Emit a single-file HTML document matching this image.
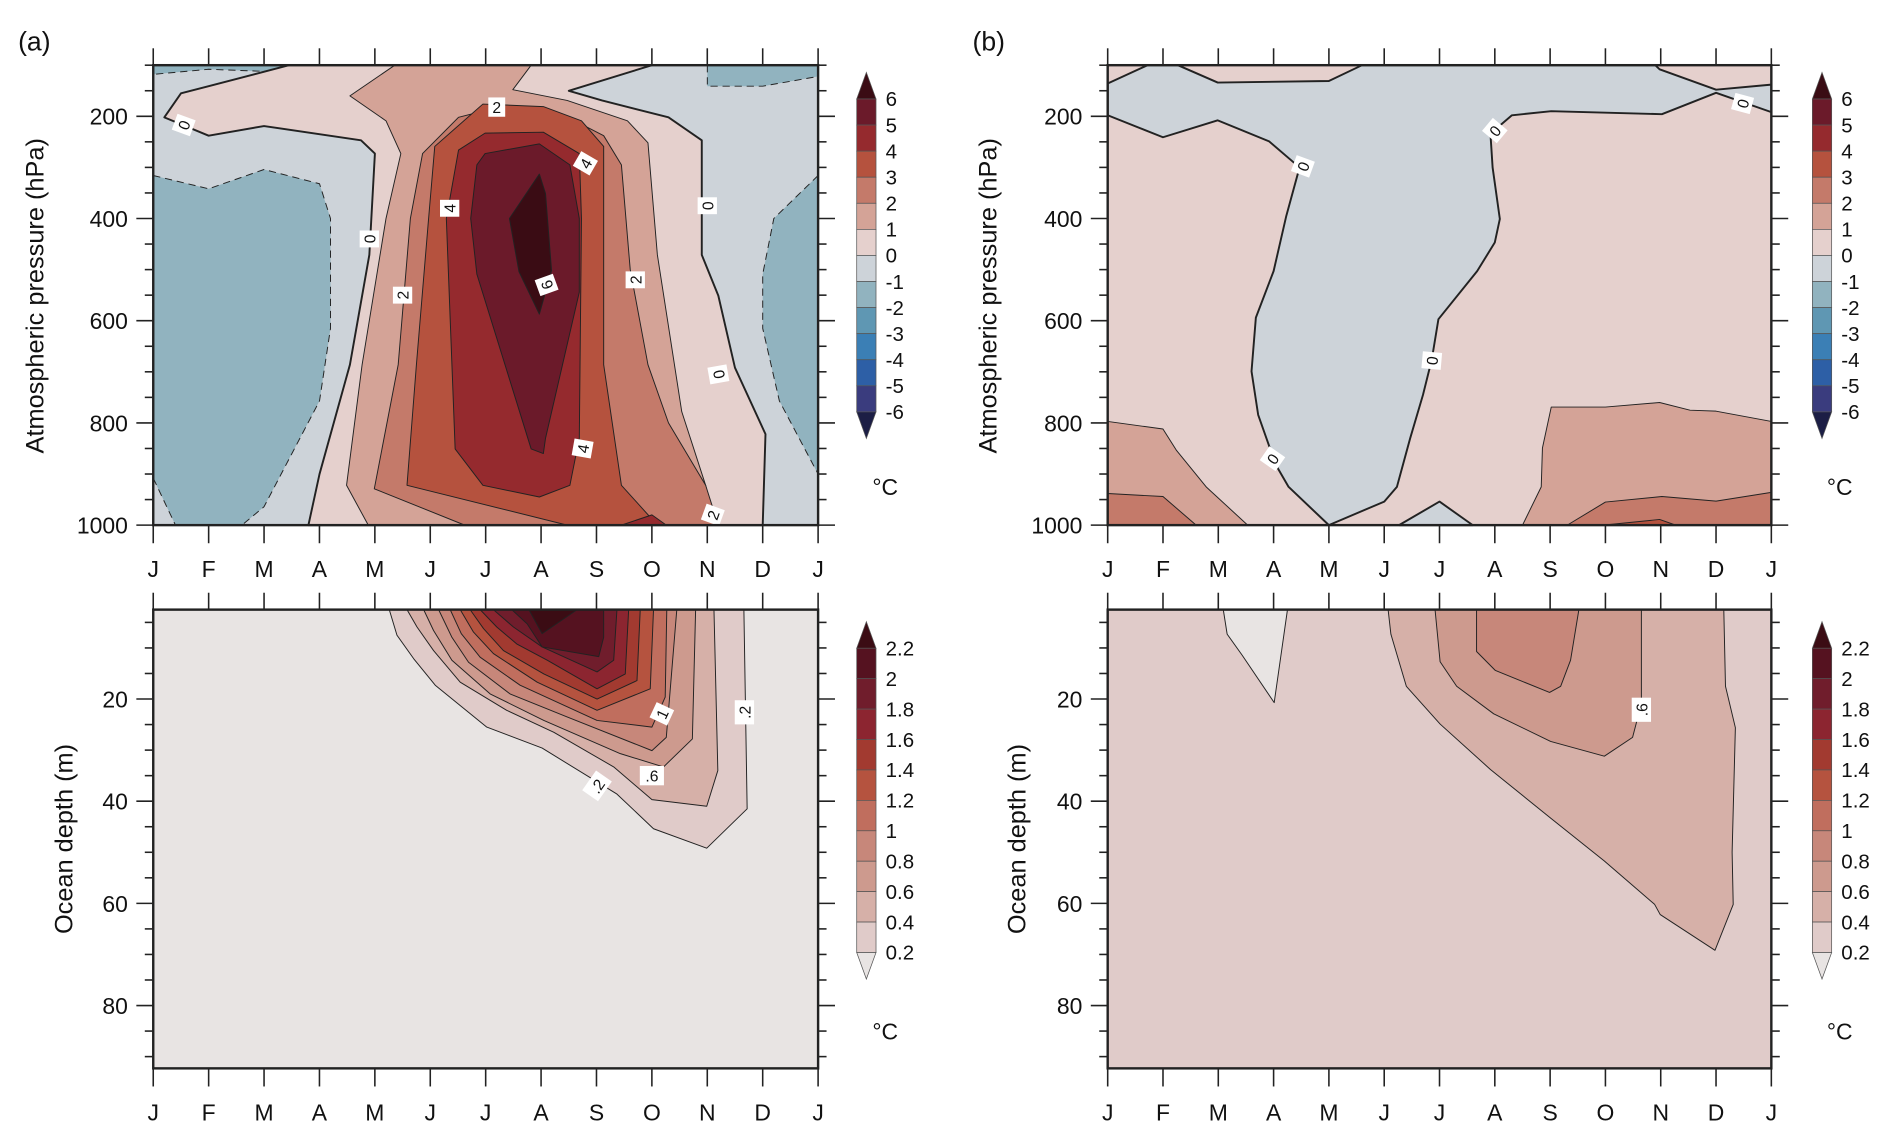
<!DOCTYPE html>
<html><head><meta charset="utf-8"><style>
html,body{margin:0;padding:0;background:#fff}
svg{display:block}
text{font-family:"Liberation Sans",sans-serif;fill:#111}
</style></head><body>
<svg id="fig" width="1892" height="1142" viewBox="0 0 1568 946" preserveAspectRatio="none" xmlns="http://www.w3.org/2000/svg"></svg>
<script>
const months = ["J","F","M","A","M","J","J","A","S","O","N","D","J"];
const pressureTicks = [200,400,600,800,1000];
const depthTicks = [20,40,60,80];
const atmLevels = ["6","5","4","3","2","1","0","-1","-2","-3","-4","-5","-6"];
const ocnLevels = ["2.2","2","1.8","1.6","1.4","1.2","1","0.8","0.6","0.4","0.2"];
const atmColors = ["#3a0c14","#6b1a2a","#952a2e","#b5523e","#c47a6a","#d4a397","#e5d0cd","#cdd3d9","#91b3bf","#5f97b3","#3b7fb5","#2d5fa6","#3a3c7e","#1c1e45"];
const ocnColors = ["#3b0c14","#551220","#701d2c","#8c2530","#a23a30","#b5533f","#c06e5e","#c7877a","#cd9a8e","#d6b0a8","#e0cbc9","#e8e4e3"];

// Panel (a) atmosphere regions: [month, hPa]
const aNeg1 = [[0,100],[0,118],[1,108],[2,112],[3,100]];
const aNeg2 = [[10,100],[10,141],[11,141],[12,122],[12,100]];
const aNegLeft = [[0,316],[1,342],[2,304],[3,332],[3.2,400],[3.2,615],[3,757],[2,964],[1.6,1000],[0.4,1000],[0,908]];
const aNegRight = [[12,316],[11.2,400],[11,509],[11,615],[11.3,757],[12,900]];
const aPos0 = [[2.45,100],[1,141],[0.5,155],[0.2,202],[1,238],[2,219],[3.75,247],[4,273],[3.9,471],[3.55,686],[3,900],[2.8,1000],[11,1000],[11.05,822],[10.5,692],[10.2,551],[9.9,471],[9.9,247],[9.3,202],[8.1,169],[7.5,150],[9,100]];
const aPos1 = [[4.36,100],[3.55,160],[4.2,209],[4.47,273],[4.2,400],[3.77,686],[3.49,922],[3.88,1000],[10.13,1000],[9.97,922],[9.54,778],[9.1,471],[8.93,252],[8.56,209],[7.47,169],[6.49,148],[6.82,100]];
const aPos2 = [[6.27,181],[5.51,202],[4.86,273],[4.64,400],[4.42,686],[3.99,929],[5.62,1000],[10.2,1000],[9.97,922],[9.3,800],[8.93,686],[8.61,500],[8.45,295],[8.13,238],[7.36,195]];
const aPos3 = [[5.95,176],[5.08,259],[4.97,400],[4.75,686],[4.58,922],[7.47,1000],[9.1,1000],[8.45,922],[8.13,686],[8.13,259],[7.73,209],[7.04,181]];
const aPos4 = [[5.99,233],[5.51,266],[5.29,400],[5.45,851],[5.95,922],[6.97,945],[7.52,922],[7.69,830],[7.73,400],[7.69,273],[7.04,231]];
const aPos4b = [[8.45,1000],[9,980],[9.26,1000]];
const aPos5 = [[5.99,273],[5.84,295],[5.73,400],[5.84,509],[6.82,851],[7.04,860],[7.08,830],[7.69,544],[7.69,400],[7.52,295],[6.97,254]];
const aPos6 = [[6.97,313],[6.43,400],[6.6,504],[6.97,587],[7.19,502],[7.08,351]];

// Panel (b) atmosphere
const bNeg = [[0,136],[0.72,100],[1.27,100],[1.99,134],[4.0,131],[4.6,100],[9.9,100],[9.98,108],[11,148],[12,138],[12,192],[11,154],[10.02,196],[8.02,190],[7.31,198],[6.92,234],[6.96,300],[7.09,401],[7.0,447],[6.68,503],[5.98,597],[5.86,676],[5.7,745],[5.47,830],[5.23,925],[5.0,954],[4.0,1000],[3.27,925],[3.04,882],[2.72,784],[2.6,699],[2.68,594],[3.0,503],[3.23,395],[3.47,300],[2.92,249],[1.99,208],[1.0,241],[0,198]];
const bNegBottom = [[5.27,1000],[6.0,954],[6.6,1000]];
const bPos1L = [[0,797],[1,812],[1.24,853],[1.78,925],[2.53,1000],[0,1000]];
const bPos2L = [[0,938],[1,944],[1.6,1000],[0,1000]];
const bPos1R = [[7.5,1000],[7.84,925],[7.86,849],[8.02,769],[9.0,769],[9.98,760],[10.53,775],[11.0,777],[12,797],[12,1000]];
const bPos2R = [[8.31,1000],[9.0,955],[10.02,944],[11,953],[12,936],[12,1000]];
const bPos3R = [[8.96,1000],[9.98,989],[10.27,1000]];

// Panel (a) ocean: [month, depth m]
const oa02 = [[4.26,2.5],[4.40,7.5],[4.70,12.1],[5.09,17.3],[6.02,25.5],[7.02,29.6],[8.37,38.6],[9.03,45.4],[9.99,49.2],[10.72,41.5],[10.66,2.5]];
const oa04 = [[4.58,2.5],[4.76,5.9],[5.06,10.5],[5.54,16.7],[6.38,22.2],[7.23,26.5],[8.31,33.3],[9.0,39.7],[9.99,41.0],[10.19,34.0],[10.12,2.5]];
const oa06 = [[4.88,2.5],[5.06,6.6],[5.39,12.4],[6.08,19],[7.05,24.2],[8.43,30.7],[9.21,33.3],[9.73,27.8],[9.79,2.5]];
const oa08 = [[5.15,2.5],[5.39,7.9],[5.69,12.8],[6.44,19],[7.47,23.5],[9.0,30.1],[9.26,27.5],[9.45,2.5]];
const oa10 = [[5.36,2.5],[5.56,7.2],[5.9,11.8],[6.62,17.3],[8.01,24.2],[9.0,25.5],[9.24,19.6],[9.27,2.5]];
const oa12 = [[5.54,2.5],[5.78,6.9],[6.14,11.1],[6.93,16.7],[8.01,22.2],[8.97,18.0],[9.03,2.5]];
const oa14 = [[5.72,2.5],[5.96,6.2],[6.32,10.5],[7.05,15.1],[8.01,20],[8.73,16.4],[8.79,2.5]];
const oa16 = [[5.9,2.5],[6.2,5.9],[6.56,9.2],[7.11,12.4],[8.01,18],[8.52,15.1],[8.58,2.5]];
const oa18 = [[6.14,2.5],[6.5,5.9],[7.02,9.8],[8.01,14.7],[8.31,12.4],[8.37,2.5]];
const oa20 = [[6.47,2.5],[6.75,5.3],[7.02,9.8],[8.04,11.7],[8.13,7.9],[8.13,2.5]];
const oa22 = [[6.78,2.5],[7.02,7.2],[7.65,2.5]];

// Panel (b) ocean
const obLow = [[2.09,2.5],[2.16,7.3],[2.43,11.4],[3.01,20.7],[3.25,2.5]];
const ob04 = [[5.07,2.5],[5.12,7.3],[5.4,17.5],[6.01,24.9],[6.92,33.8],[8.01,43.3],[8.98,51.7],[9.89,60.2],[9.99,62.2],[10.98,69.2],[11.31,60.2],[11.29,50],[11.35,25.6],[11.17,17.5],[11.14,2.5]];
const ob06 = [[5.92,2.5],[6.01,12.7],[6.31,17.5],[6.98,22.9],[8.01,28.3],[8.98,31.2],[9.49,27.5],[9.65,20.9],[9.65,2.5]];
const ob08 = [[6.67,2.5],[6.67,10.7],[7.01,14.4],[7.99,18.7],[8.19,17.5],[8.37,12.4],[8.52,2.5]];

const svg = document.getElementById('fig');
const NS = "http://www.w3.org/2000/svg";
function mk(tag, attrs, parent){const e=document.createElementNS(NS,tag);for(const k in attrs)e.setAttribute(k,attrs[k]);(parent||svg).appendChild(e);return e;}

const panels = {
  aTop:{x0:127,x1:678,y0:54,y1:435,d0:100,d1:1000},
  aBot:{x0:127,x1:678,y0:505,y1:885,d0:2.5,d1:92.3},
  bTop:{x0:918,x1:1468,y0:54,y1:435,d0:100,d1:1000},
  bBot:{x0:918,x1:1468,y0:505,y1:885,d0:2.5,d1:92.3}
};
function xs(P,m){return P.x0+(P.x1-P.x0)*m/12;}
function ys(P,v){return P.y0+(P.y1-P.y0)*(v-P.d0)/(P.d1-P.d0);}

function region(P, pts, fill, name, stroke){
  const d = pts.map((p,i)=>(i?'L':'M')+xs(P,p[0]).toFixed(1)+','+ys(P,p[1]).toFixed(1)).join(' ')+'Z';
  const el = mk('path',{d:d,fill:fill,stroke:'#222','stroke-width':stroke&&stroke.w||0.8,'stroke-dasharray':stroke&&stroke.dash||'none','stroke-linejoin':'round'});
  
  
  return el;
}
function label(P,m,v,t,ang){
  const g = mk('g',{transform:`translate(${xs(P,m)},${ys(P,v)}) rotate(${ang})`});
  
  
  const w = 8+t.length*6;
  mk('rect',{x:-w/2,y:-8,width:w,height:16,fill:'#fff'},g);
  const tx = mk('text',{x:0,y:5,'font-size':13,'text-anchor':'middle'},g);
  tx.textContent = t;
}
function bg(P,fill,name){
  const r = mk('rect',{x:P.x0,y:P.y0,width:P.x1-P.x0,height:P.y1-P.y0,fill:fill});
  
  
}
function axes(P, ticks, minorStep, name){
  const g = mk('g',{});
  
  
  for(let k=0;k<=12;k++){
    const x = xs(P,k);
    mk('line',{x1:x,y1:P.y0,x2:x,y2:P.y0-14,stroke:'#222','stroke-width':1.3},g);
    mk('line',{x1:x,y1:P.y1,x2:x,y2:P.y1+15,stroke:'#222','stroke-width':1.3},g);
    const t = mk('text',{x:x,y:P.y1+43,'font-size':19,'text-anchor':'middle'},g);
    t.textContent = months[k];
  }
  for(let v=Math.ceil(P.d0/minorStep)*minorStep; v<=P.d1; v+=minorStep){
    const y = ys(P,v);
    const major = ticks.indexOf(v)>=0;
    const L = major?14:7;
    mk('line',{x1:P.x0,y1:y,x2:P.x0-L,y2:y,stroke:'#222','stroke-width':1.3},g);
    mk('line',{x1:P.x1,y1:y,x2:P.x1+L,y2:y,stroke:'#222','stroke-width':1.3},g);
    if(major){const t=mk('text',{x:P.x0-21,y:y+7,'font-size':19,'text-anchor':'end'},g);t.textContent=String(v);}
  }
  mk('rect',{x:P.x0,y:P.y0,width:P.x1-P.x0,height:P.y1-P.y0,fill:'none',stroke:'#222','stroke-width':2},g);
}
function colorbar(x, yTop, step, labels, colors, name){
  const g = mk('g',{});
  
  
  const n = labels.length-1, w=16, tri=22;
  mk('path',{d:`M${x},${yTop} L${x+w/2},${yTop-tri} L${x+w},${yTop} Z`,fill:colors[0],stroke:'#555','stroke-width':0.6},g);
  for(let i=0;i<n;i++) mk('rect',{x:x,y:yTop+i*step,width:w,height:step,fill:colors[i+1],stroke:'#555','stroke-width':0.6},g);
  const yb = yTop+n*step;
  mk('path',{d:`M${x},${yb} L${x+w/2},${yb+tri} L${x+w},${yb} Z`,fill:colors[n+1],stroke:'#555','stroke-width':0.6},g);
  labels.forEach((l,i)=>{const t=mk('text',{x:x+w+8,y:yTop+i*step+6,'font-size':17},g);t.textContent=l;});
}

// Panel a top
let P = panels.aTop;
bg(P, atmColors[7], 'panel-a-atmosphere-background');
region(P,aNeg1,atmColors[8],'a-neg-region-top-left',{dash:'6,4'});
region(P,aNeg2,atmColors[8],'a-neg-region-top-right',{dash:'6,4'});
region(P,aNegLeft,atmColors[8],'a-neg-region-left',{dash:'6,4'});
region(P,aNegRight,atmColors[8],'a-neg-region-right',{dash:'6,4'});
region(P,aPos0,atmColors[6],'a-region-0-1',{w:1.6});
region(P,aPos1,atmColors[5],'a-region-1-2');
region(P,aPos2,atmColors[4],'a-region-2-3');
region(P,aPos3,atmColors[3],'a-region-3-4');
region(P,aPos4,atmColors[2],'a-region-4-5');
region(P,aPos4b,atmColors[2],'a-region-4-5-bottom');
region(P,aPos5,atmColors[1],'a-region-5-6');
region(P,aPos6,atmColors[0],'a-region-above-6');
label(P,0.55,217,'0',-70);label(P,6.2,182,'2',0);label(P,7.8,292,'4',-60);label(P,5.35,380,'4',-90);
label(P,3.9,440,'0',-90);label(P,4.5,550,'2',-90);label(P,7.1,530,'6',-110);label(P,8.7,520,'2',-90);
label(P,10.0,375,'0',-90);label(P,10.2,705,'0',-100);label(P,7.75,850,'4',-80);label(P,10.1,980,'2',-70);
axes(P,pressureTicks,50,'panel-a-atmosphere-axes');

// Panel a bottom
P = panels.aBot;
bg(P, ocnColors[11], 'panel-a-ocean-background');
[[oa02,10],[oa04,9],[oa06,8],[oa08,7],[oa10,6],[oa12,5],[oa14,4],[oa16,3],[oa18,2],[oa20,1],[oa22,0]].forEach((r,i)=>region(P,r[0],ocnColors[r[1]],'a-ocean-level-'+i));
label(P,8.01,37,'.2',-55);label(P,9.0,35,'.6',0);label(P,9.18,22.9,'1',-65);label(P,10.67,22.6,'.2',-90);
axes(P,depthTicks,5,'panel-a-ocean-axes');

// Panel b top
P = panels.bTop;
bg(P, atmColors[6], 'panel-b-atmosphere-background');
region(P,bNeg,atmColors[7],'b-neg-region',{w:1.6});
region(P,bNegBottom,atmColors[7],'b-neg-region-bottom',{w:1.6});
region(P,bPos1L,atmColors[5],'b-region-1-2-left');
region(P,bPos2L,atmColors[4],'b-region-2-3-left');
region(P,bPos1R,atmColors[5],'b-region-1-2-right');
region(P,bPos2R,atmColors[4],'b-region-2-3-right');
region(P,bPos3R,atmColors[3],'b-region-3-4-right');
label(P,3.53,298,'0',-70);label(P,7.0,228,'0',-50);label(P,5.86,678,'0',-85);label(P,2.98,870,'0',-55);label(P,11.48,175,'0',-75);
axes(P,pressureTicks,50,'panel-b-atmosphere-axes');

// Panel b bottom
P = panels.bBot;
bg(P, ocnColors[10], 'panel-b-ocean-background');
region(P,obLow,ocnColors[11],'b-ocean-low');
region(P,ob04,ocnColors[9],'b-ocean-0.4');
region(P,ob06,ocnColors[8],'b-ocean-0.6');
region(P,ob08,ocnColors[7],'b-ocean-0.8');
label(P,9.65,22.1,'.6',-90);
axes(P,depthTicks,5,'panel-b-ocean-axes');

// Colorbars
colorbar(710,82,21.6,atmLevels,atmColors,'colorbar-a-atmosphere');
colorbar(1502,82,21.6,atmLevels,atmColors,'colorbar-b-atmosphere');
colorbar(710,537,25.2,ocnLevels,ocnColors,'colorbar-a-ocean');
colorbar(1502,537,25.2,ocnLevels,ocnColors,'colorbar-b-ocean');

function txt(x,y,s,size,name,rot){
  const t = mk('text',{x:x,y:y,'font-size':size,'text-anchor':rot?'middle':'start',transform:rot?`rotate(-90 ${x} ${y})`:''});
  t.textContent = s;
  
  
}
txt(15,42,'(a)',22,'panel-a-label');
txt(806,42,'(b)',22,'panel-b-label');
txt(36,245,'Atmospheric pressure (hPa)',21,'y-axis-title-a-pressure',true);
txt(826,245,'Atmospheric pressure (hPa)',21,'y-axis-title-b-pressure',true);
txt(60,695,'Ocean depth (m)',21,'y-axis-title-a-depth',true);
txt(850,695,'Ocean depth (m)',21,'y-axis-title-b-depth',true);
txt(723,410,'°C',19,'unit-a-top');
txt(723,861,'°C',19,'unit-a-bottom');
txt(1514,410,'°C',19,'unit-b-top');
txt(1514,861,'°C',19,'unit-b-bottom');
</script>
</body></html>
